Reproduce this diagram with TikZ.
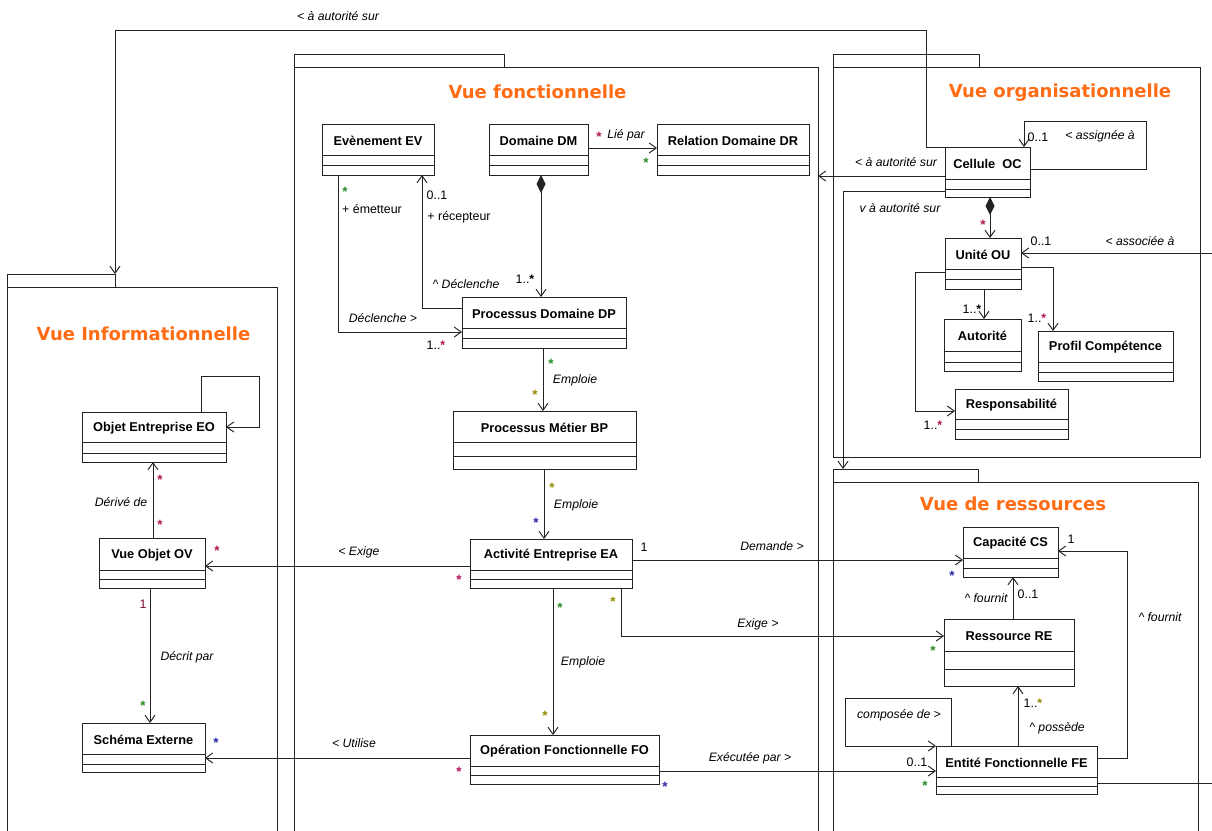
\documentclass[tikz,border=0pt]{standalone}
\usepackage{fontspec}
\setmainfont{Liberation Sans}
\newfontfamily\titlefont{DejaVu Sans}
\usetikzlibrary{arrows.meta,calc}
\definecolor{vorange}{RGB}{255,108,20}
\definecolor{ln}{RGB}{35,35,35}
\definecolor{mred}{RGB}{175,20,85}
\definecolor{mgreen}{RGB}{40,140,40}
\definecolor{mblue}{RGB}{40,40,170}
\definecolor{molive}{RGB}{150,140,0}
\tikzset{
  frame/.style={draw=ln, line width=0.9pt, inner sep=0pt, outer sep=0pt, anchor=north west},
  classbox/.style={draw=ln, line width=1pt, fill=white, inner sep=0pt, outer sep=0pt, anchor=north west},
  classline/.style={draw=ln, line width=1pt},
  classname/.style={font=\fontsize{12.8}{14}\selectfont\bfseries, inner sep=0pt},
  viewtitle/.style={font=\titlefont\fontsize{18}{21}\selectfont\bfseries, text=vorange, inner sep=0pt},
  assoc/.style={draw=ln, line width=0.95pt, -{Straight Barb[length=7pt,width=10pt]}},
  plainline/.style={draw=ln, line width=0.95pt},
  comp/.style={draw=ln, line width=0.95pt, {Diamond[length=18pt,width=9pt]}-{Straight Barb[length=7pt,width=10pt]}},
  lbl/.style={font=\fontsize{12.2}{14}\selectfont\itshape, inner sep=0pt},
  mult/.style={font=\fontsize{12.4}{14}\selectfont, inner sep=0pt},
  st/.style={font=\fontsize{13.5}{14}\selectfont\bfseries, inner sep=0pt},
}
\newcommand\umlclass[8]{%
  \pgfmathsetmacro\uw{#4-#2}%
  \pgfmathsetmacro\uh{#5-#3}%
  \node[classbox, minimum width=\uw pt, minimum height=\uh pt] (#1) at (#2,#3) {};
  \draw[classline] (#2,#6) -- (#4,#6) (#2,#7) -- (#4,#7);
  \node[classname] (#1-n) at ({(#2+#4)/2},{(#3+#6)/2+1}) {#8};
}
\begin{document}
\begin{tikzpicture}[x=1pt,y=-1pt]
\useasboundingbox (0,0) rectangle (1212,830);
\fill[white] (0,0) rectangle (1212,830);
\clip (0,0) rectangle (1212,830);

% ---- frames (packages)
\node[frame, minimum width=210pt, minimum height=13pt] (fonctab) at (294,54) {};
\node[frame, minimum width=524pt, minimum height=790pt] (fonc) at (294,67) {};
\node[frame, minimum width=146pt, minimum height=13pt] (orgtab) at (833,54) {};
\node[frame, minimum width=367pt, minimum height=390pt] (org) at (833,67) {};
\node[frame, minimum width=108pt, minimum height=13pt] (infotab) at (7,274) {};
\node[frame, minimum width=270pt, minimum height=570pt] (info) at (7,287) {};
\node[frame, minimum width=145pt, minimum height=13pt] (restab) at (833,469) {};
\node[frame, minimum width=365pt, minimum height=370pt] (ress) at (833,482) {};

\node[viewtitle] (t1) at (537.5,92) {Vue fonctionnelle};
\node[viewtitle] (t2) at (1060,93) {Vue organisationnelle};
\node[viewtitle] (t3) at (143.5,334) {Vue Informationnelle};
\node[viewtitle] (t4) at (1013,504) {Vue de ressources};

% ---- classes
\umlclass{ev}{322}{124}{434}{175}{155}{165}{Evènement EV}
\umlclass{dm}{489}{124}{588}{175}{155}{165}{Domaine DM}
\umlclass{dr}{657}{124}{809}{175}{155}{165}{Relation Domaine DR}
\umlclass{dp}{462}{297}{626}{348}{328}{338}{Processus Domaine DP}
\umlclass{bp}{453}{411}{636}{469}{442}{456}{Processus Métier BP}
\umlclass{ea}{470}{539}{632}{588}{570}{579}{Activité Entreprise EA}
\umlclass{fo}{470}{735}{659}{784}{766}{775}{Opération Fonctionnelle FO}
\umlclass{oc}{945}{147}{1030}{197}{179}{189}{Cellule~~OC}
\umlclass{ou}{945}{238}{1021}{289}{269}{279}{Unité OU}
\umlclass{au}{944}{319}{1021}{371}{351}{362}{Autorité}
\umlclass{pc}{1038}{331}{1173}{381}{362}{372}{Profil Compétence}
\umlclass{rs}{955}{389}{1068}{439}{419}{429}{Responsabilité}
\umlclass{eo}{82}{412}{226}{462}{442}{453}{Objet Entreprise EO}
\umlclass{ov}{99}{538}{205}{588}{570}{579}{Vue Objet OV}
\umlclass{se}{82}{723}{205}{772}{754}{764}{Schéma Externe}
\umlclass{cs}{963}{527}{1058}{577}{558}{568}{Capacité CS}
\umlclass{res}{944}{619}{1074}{686}{651}{669}{Ressource RE}
\umlclass{fe}{936}{746}{1097}{794}{777}{786}{Entité Fonctionnelle FE}

% ---- connectors : vue fonctionnelle
\draw[assoc] (dm.east |- 0,148) -- (dr.west |- 0,148);
\node[st,text=mred] (m1) at (599,137) {*};
\node[lbl] (l1) at (626,135) {Lié par};
\node[st,text=mgreen] (m2) at (646,163) {*};

\draw[assoc] (ev.south -| 338,0) -- (338,332) -- (dp.west |- 0,332);
\node[st,text=mgreen] (m3) at (345,192) {*};
\node[mult] (m4) at (372,209) {+ émetteur};
\node[lbl] (l2) at (383,318) {Déclenche >};
\node[mult] (m5) at (436,345) {1..\textcolor{mred}{\bfseries*}};

\draw[assoc] (dp.west |- 0,308) -- (422,308) -- (ev.south -| 422,0);
\node[mult] (m6) at (437,195) {0..1};
\node[mult] (m7) at (459,217) {+ récepteur};
\node[lbl] (l3) at (466,284) {\textasciicircum\ Déclenche};

\draw[comp] (dm.south -| 541,0) -- (dp.north -| 541,0);
\node[mult] (m8) at (525,279) {1..{\bfseries*}};

\draw[assoc] (dp.south -| 543,0) -- (bp.north -| 543,0);
\node[st,text=mgreen] (m9) at (551,364) {*};
\node[lbl] (l4) at (575,380) {Emploie};
\node[st,text=molive] (m10) at (535,395) {*};

\draw[assoc] (bp.south -| 544,0) -- (ea.north -| 544,0);
\node[st,text=molive] (m11) at (552,488) {*};
\node[lbl] (l5) at (576,505) {Emploie};
\node[st,text=mblue] (m12) at (536,523) {*};

\draw[assoc] (ea.west |- 0,566) -- (ov.east |- 0,566);
\node[lbl] (l6) at (359,552) {< Exige};
\node[st,text=mred] (m13) at (459,580) {*};
\node[st,text=mred] (m14) at (217,551) {*};

\draw[assoc] (ea.east |- 0,560) -- (cs.west |- 0,560);
\node[mult] (m15) at (644,547) {1};
\node[lbl] (l7) at (772,546) {Demande >};
\node[st,text=mblue] (m16) at (952,576) {*};

\draw[assoc] (ea.south -| 621,0) -- (621,636) -- (res.west |- 0,636);
\node[st,text=molive] (m17) at (613,602) {*};
\node[lbl] (l8) at (758,624) {Exige >};
\node[st,text=mgreen] (m18) at (933,651) {*};

\draw[assoc] (ea.south -| 553,0) -- (fo.north -| 553,0);
\node[st,text=mgreen] (m19) at (560,608) {*};
\node[lbl] (l9) at (583,662) {Emploie};
\node[st,text=molive] (m20) at (545,716) {*};

\draw[assoc] (fo.west |- 0,758) -- (se.east |- 0,758);
\node[lbl] (l10) at (354,743) {< Utilise};
\node[st,text=mred] (m21) at (459,772) {*};
\node[st,text=mblue] (m22) at (216,743) {*};

\draw[assoc] (fo.east |- 0,771) -- (fe.west |- 0,771);
\node[lbl] (l11) at (750,758) {Exécutée par >};
\node[st,text=mblue] (m23) at (665,787) {*};
\node[mult] (m24) at (917,762) {0..1};
\node[st,text=mgreen] (m25) at (925,786) {*};

% ---- vue informationnelle
\draw[assoc] (ov.north -| 153,0) -- (eo.south -| 153,0);
\node[st,text=mred] (m26) at (160,480) {*};
\node[lbl] (l12) at (121,502) {Dérivé de};
\node[st,text=mred] (m27) at (160,525) {*};

\draw[assoc] (eo.north -| 201,0) -- (201,376) -- (259,376) -- (259,427) -- (eo.east |- 0,427);

\draw[assoc] (ov.south -| 150,0) -- (se.north -| 150,0);
\node[mult,text=mred!70!black] (m28) at (143,604) {1};
\node[lbl] (l13) at (187,657) {Décrit par};
\node[st,text=mgreen] (m29) at (143,706) {*};

% ---- vue organisationnelle
\draw[assoc] (oc.north west) -- (926,147) -- (926,30) -- (115,30) -- (infotab.north east);
\node[lbl] (l14) at (338,16) {< à autorité sur};

\draw[assoc] (oc.west |- 0,176) -- (fonc.east |- 0,176);
\node[lbl] (l15) at (896,162) {< à autorité sur};

\draw[assoc] (oc.west |- 0,191) -- (843,191) -- (restab.north -| 843,0);
\node[lbl] (l16) at (900,208) {v à autorité sur};

\draw[assoc] (oc.east |- 0,169) -- (1146,169) -- (1146,121) -- (1024,121) -- (oc.north -| 1024,0);
\node[mult] (m30) at (1038,137) {0..1};
\node[lbl] (l17) at (1100,136) {< assignée à};

\draw[comp] (oc.south -| 990,0) -- (ou.north -| 990,0);
\node[st,text=mred] (m31) at (983,225) {*};

\coordinate (rightin) at (1212,253);
\draw[assoc] (rightin) -- (ou.east |- rightin);
\node[mult] (m32) at (1041,241) {0..1};
\node[lbl] (l18) at (1140,241) {< associée à};

\draw[assoc] (ou.south -| 984,0) -- (au.north -| 984,0);
\node[mult] (m33) at (972,309) {1..{\bfseries*}};

\draw[assoc] (ou.east |- 0,267) -- (1053,267) -- (pc.north -| 1053,0);
\node[mult] (m34) at (1037,318) {1..\textcolor{mred}{\bfseries*}};

\draw[assoc] (ou.west |- 0,272) -- (915,272) -- (915,411) -- (rs.west |- 0,411);
\node[mult] (m35) at (933,425) {1..\textcolor{mred}{\bfseries*}};

% ---- vue de ressources
\draw[assoc] (res.north -| 1013,0) -- (cs.south -| 1013,0);
\node[lbl] (l19) at (986,598) {\textasciicircum\ fournit};
\node[mult] (m36) at (1028,594) {0..1};

\draw[assoc] (fe.north -| 1018,0) -- (res.south -| 1018,0);
\node[mult] (m37) at (1033,703) {1..\textcolor{molive}{\bfseries*}};
\node[lbl] (l20) at (1057,728) {\textasciicircum\ possède};

\draw[assoc] (fe.east |- 0,758) -- (1127,758) -- (1127,551) -- (cs.east |- 0,551);
\node[mult] (m38) at (1071,539) {1};
\node[lbl] (l21) at (1160,617) {\textasciicircum\ fournit};

\draw[assoc] (fe.north -| 951,0) -- (951,698) -- (845,698) -- (845,746) -- (fe.north west);
\node[lbl] (l22) at (899,715) {composée de >};

\coordinate (rightout) at (1212,783);
\draw[plainline] (fe.east |- rightout) -- (rightout);
\end{tikzpicture}
\end{document}
